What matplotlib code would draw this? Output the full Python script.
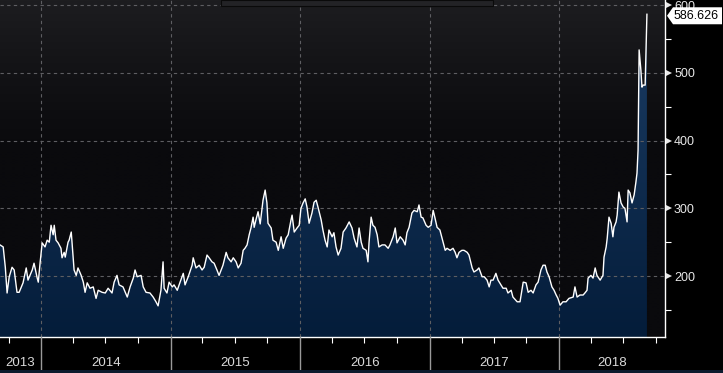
import numpy as np
import pandas as pd
import matplotlib
matplotlib.use("Agg")
import matplotlib.pyplot as plt
import matplotlib.dates as mdates
from matplotlib.transforms import blended_transform_factory, ScaledTranslation, IdentityTransform
from matplotlib.patches import Rectangle, Polygon
from matplotlib.lines import Line2D
from matplotlib.ticker import FixedLocator

# ---------------- data ----------------
dates = [
    "2013-09-07", "2013-09-16", "2013-09-22", "2013-09-27", "2013-10-03", "2013-10-11", "2013-10-17",
    "2013-10-25", "2013-10-31", "2013-11-11", "2013-11-20", "2013-11-25", "2013-12-07", "2013-12-12",
    "2013-12-21", "2013-12-24", "2013-12-29",
    "2014-01-04", "2014-01-12", "2014-01-18", "2014-01-24", "2014-01-29", "2014-02-04", "2014-02-07",
    "2014-02-12", "2014-02-18", "2014-02-26", "2014-03-01", "2014-03-07", "2014-03-10", "2014-03-18",
    "2014-03-21", "2014-03-27", "2014-04-01", "2014-04-04", "2014-04-10", "2014-04-15", "2014-04-24",
    "2014-04-30", "2014-05-05", "2014-05-11", "2014-05-19", "2014-05-28", "2014-06-05", "2014-06-11",
    "2014-06-22", "2014-07-01", "2014-07-09", "2014-07-20", "2014-07-26", "2014-08-03", "2014-08-09",
    "2014-08-20", "2014-09-01", "2014-09-09", "2014-09-18", "2014-09-23", "2014-09-29", "2014-10-10",
    "2014-10-16", "2014-10-24", "2014-11-04", "2014-11-13", "2014-11-21", "2014-11-27", "2014-12-05",
    "2014-12-11", "2014-12-14", "2014-12-22", "2014-12-28",
    "2015-01-06", "2015-01-11", "2015-01-20", "2015-01-28", "2015-02-06", "2015-02-11", "2015-02-20",
    "2015-03-03", "2015-03-06", "2015-03-14", "2015-03-23", "2015-03-31", "2015-04-06", "2015-04-14",
    "2015-04-20", "2015-04-28", "2015-05-04", "2015-05-12", "2015-05-18", "2015-05-29", "2015-06-07",
    "2015-06-12", "2015-06-21", "2015-06-27", "2015-07-05", "2015-07-11", "2015-07-19", "2015-07-25",
    "2015-07-30", "2015-08-05", "2015-08-11", "2015-08-16", "2015-08-22", "2015-08-25", "2015-08-30",
    "2015-09-05", "2015-09-11", "2015-09-19", "2015-09-25", "2015-09-30", "2015-10-03", "2015-10-12",
    "2015-10-17", "2015-10-26", "2015-11-01", "2015-11-09", "2015-11-15", "2015-11-23", "2015-11-29",
    "2015-12-07", "2015-12-10", "2015-12-16", "2015-12-24", "2015-12-30",
    "2016-01-04", "2016-01-10", "2016-01-16", "2016-01-21", "2016-01-27", "2016-02-04", "2016-02-10",
    "2016-02-16", "2016-02-21", "2016-03-01", "2016-03-06", "2016-03-12", "2016-03-18", "2016-03-23",
    "2016-04-01", "2016-04-06", "2016-04-12", "2016-04-18", "2016-04-26", "2016-05-02", "2016-05-10",
    "2016-05-19", "2016-05-27", "2016-06-02", "2016-06-10", "2016-06-16", "2016-06-22", "2016-06-27",
    "2016-07-06", "2016-07-11", "2016-07-14", "2016-07-20", "2016-07-25", "2016-07-31", "2016-08-06",
    "2016-08-11", "2016-08-20", "2016-08-28", "2016-09-06", "2016-09-11", "2016-09-20", "2016-09-26",
    "2016-10-01", "2016-10-10", "2016-10-18", "2016-10-24", "2016-10-29", "2016-11-04", "2016-11-12",
    "2016-11-18", "2016-11-27", "2016-12-02", "2016-12-08", "2016-12-13", "2016-12-22", "2016-12-28",
    "2017-01-05", "2017-01-11", "2017-01-16", "2017-01-22", "2017-01-30", "2017-02-08", "2017-02-14",
    "2017-02-19", "2017-02-28", "2017-03-08", "2017-03-14", "2017-03-19", "2017-03-25", "2017-04-02",
    "2017-04-08", "2017-04-17", "2017-04-22", "2017-05-01", "2017-05-06", "2017-05-15", "2017-05-20",
    "2017-05-29", "2017-06-04", "2017-06-12", "2017-06-18", "2017-06-23", "2017-06-29", "2017-07-07",
    "2017-07-13", "2017-07-21", "2017-07-27", "2017-08-05", "2017-08-10", "2017-08-19", "2017-08-24",
    "2017-09-05", "2017-09-13", "2017-09-22", "2017-09-30", "2017-10-06", "2017-10-14", "2017-10-20",
    "2017-10-28", "2017-11-03", "2017-11-11", "2017-11-17", "2017-11-23", "2017-11-28", "2017-12-04",
    "2017-12-12", "2017-12-18", "2017-12-24", "2017-12-29",
    "2018-01-04", "2018-01-12", "2018-01-21", "2018-01-29", "2018-02-10", "2018-02-15", "2018-02-21",
    "2018-03-01", "2018-03-10", "2018-03-15", "2018-03-21", "2018-03-24", "2018-04-01", "2018-04-07",
    "2018-04-13", "2018-04-18", "2018-04-27", "2018-05-05", "2018-05-08", "2018-05-14", "2018-05-17",
    "2018-05-22", "2018-05-28", "2018-06-02", "2018-06-05", "2018-06-11", "2018-06-14", "2018-06-19",
    "2018-06-25", "2018-07-01", "2018-07-06", "2018-07-12", "2018-07-15", "2018-07-20", "2018-07-26",
    "2018-08-01", "2018-08-06", "2018-08-09", "2018-08-12", "2018-08-15", "2018-08-20", "2018-08-23",
    "2018-08-26", "2018-09-01", "2018-09-04", "2018-09-06",
]
values = [
    246, 243, 213, 175, 199, 213, 209, 176, 176, 190, 212, 194, 209, 219, 197, 191, 219,
    249, 243, 253, 250, 275, 261, 275, 253, 249, 241, 227, 235, 228, 250, 253, 265, 231, 209, 201,
    212, 201, 191, 176, 190, 182, 184, 167, 179, 176, 175, 182, 175, 191, 201, 187, 184, 169, 184,
    197, 209, 199, 201, 184, 176, 175, 169, 162, 156, 179, 221, 182, 175, 191,
    184, 187, 179, 191, 204, 187, 199, 216, 227, 212, 216, 209, 213, 231, 227, 221, 219, 209, 201,
    216, 235, 227, 221, 227, 221, 212, 219, 238, 241, 246, 261, 271, 287, 272, 283, 295, 277, 312,
    327, 308, 278, 271, 253, 250, 238, 258, 241, 256, 261, 283, 290, 265, 271, 275,
    300, 308, 314, 302, 278, 293, 309, 312, 302, 283, 268, 253, 243, 268, 258, 264, 243, 231, 241,
    265, 271, 280, 271, 256, 243, 271, 250, 241, 238, 221, 249, 287, 275, 272, 261, 243, 246, 246,
    241, 246, 258, 271, 249, 258, 253, 246, 264, 272, 293, 297, 295, 305, 287, 286, 275, 272,
    275, 297, 286, 272, 268, 250, 238, 241, 238, 241, 235, 227, 235, 238, 238, 235, 231, 212, 206,
    209, 212, 199, 199, 194, 184, 194, 194, 204, 194, 187, 182, 182, 175, 179, 169, 162, 162, 191,
    190, 176, 179, 175, 187, 191, 209, 216, 216, 206, 199, 184, 179, 172, 167,
    157, 162, 162, 167, 169, 184, 169, 172, 172, 175, 179, 197, 201, 197, 212, 201, 194, 201, 228,
    243, 256, 287, 278, 258, 272, 280, 290, 324, 308, 302, 300, 280, 327, 323, 308, 320, 339, 352,
    386, 534, 504, 479, 482, 482, 544, 586.626,
]
y_major = [200, 300, 400, 500, 600]
y_minor = [150, 250, 350, 450, 550]
year_labels = ["2013", "2014", "2015", "2016", "2017", "2018"]
last_label = "586.626"
x_start, x_end = "2013-09-07", "2018-10-27"
y_lo, y_hi = 110, 607.7

# ---------------- figure ----------------
W, H = 723, 373
fig = plt.figure(figsize=(W / 100, H / 100), dpi=100, facecolor="black")
ax = fig.add_axes([0, 36 / H, 665 / W, 337 / H])

xn = mdates.date2num(pd.to_datetime(dates))
x0 = mdates.date2num(pd.Timestamp(x_start))
x1 = mdates.date2num(pd.Timestamp(x_end))

# plot background gradient
t = np.linspace(0, 1, 256)[:, None]
top = np.array([0x1d, 0x1d, 0x20]) / 255
bot = np.array([0x0a, 0x0a, 0x0d]) / 255
w = np.clip(1 - t / 0.45, 0, 1) ** 1.2
bg = bot + (top - bot) * w[..., None]
ax.imshow(bg, extent=[0, 1, 0, 1], transform=ax.transAxes, aspect="auto",
          origin="upper", zorder=0, interpolation="bilinear")

# gradient area fill clipped to the series
poly = Polygon(np.column_stack([np.r_[xn[0], xn, xn[-1]],
                                np.r_[y_lo - 20, values, y_lo - 20]]),
               closed=True, transform=ax.transData)
tv = np.linspace(0, 1, 256)[:, None]
ctop = np.array([0x1c, 0x3e, 0x66]) / 255
cbot = np.array([0x03, 0x1b, 0x38]) / 255
fimg = cbot + (ctop - cbot) * (1 - tv)[..., None]
im = ax.imshow(fimg, extent=[xn[0], xn[-1], y_lo - 20, y_hi], aspect="auto",
               origin="upper", zorder=1, interpolation="bilinear")
im.set_clip_path(poly)

ax.plot(xn, values, color="white", lw=1.0, zorder=3, solid_joinstyle="round")

ax.set_xlim(x0, x1)
ax.set_ylim(y_lo, y_hi)

# grid
ax.set_axisbelow("line")
ax.xaxis.set_major_locator(mdates.YearLocator())
ax.xaxis.set_minor_locator(mdates.MonthLocator(bymonth=[1, 4, 7, 10]))
ax.yaxis.set_major_locator(FixedLocator(y_major))
ax.yaxis.set_minor_locator(FixedLocator(y_minor))
ax.grid(True, which="major", color="#5e5e62", lw=0.8, linestyle=(0, (3, 3)))

for s in ["top", "left"]:
    ax.spines[s].set_visible(False)
for s in ["right", "bottom"]:
    ax.spines[s].set_color("white")
    ax.spines[s].set_linewidth(1.0)

# y axis on the right
ax.yaxis.tick_right()
ax.tick_params(axis="y", which="major", length=0, pad=6.5, labelcolor="#e8e8e8",
               labelsize=9)
ax.tick_params(axis="y", which="minor", length=4, width=0.8, color="white", direction="out")
for lab in ax.get_yticklabels():
    lab.set_fontfamily(["Liberation Sans", "DejaVu Sans"])
tri_tr = blended_transform_factory(ax.transAxes, ax.transData) + \
    ScaledTranslation(3.5 / 100, 0, fig.dpi_scale_trans)
ax.plot([1] * len(y_major), y_major, linestyle="none", marker=">", markersize=4.5,
        color="#e8e8e8", markeredgewidth=0, transform=tri_tr, clip_on=False, zorder=5)

# x axis
ax.tick_params(axis="x", which="major", length=0, labelbottom=False)
ax.tick_params(axis="x", which="minor", length=4, width=0.8, color="white", direction="out",
               labelbottom=False)
xb = blended_transform_factory(ax.transData, ax.transAxes)
bounds = [x0] + [mdates.date2num(pd.Timestamp(f"{y}-01-01")) for y in range(2014, 2019)] + [x1]
for b in bounds[1:-1]:
    ax.add_line(Line2D([b, b], [0, -36 / 337], transform=xb, color="#9a9a9a", lw=1.0,
                       clip_on=False, zorder=5))
for i, lab in enumerate(year_labels):
    c = 0.5 * (bounds[i] + bounds[i + 1])
    ax.text(c, -26 / 337, lab, transform=xb, ha="center", va="center", color="#dadada",
            fontsize=9.5, family=["Liberation Sans Narrow", "Liberation Sans", "DejaVu Sans"])

# bottom strip
fig.add_artist(Rectangle((0, 0), 1, 3 / H, transform=fig.transFigure,
                         facecolor="#0c1b2e", edgecolor="none", zorder=6))

# top header box
fig.add_artist(Rectangle((221 / W, 1 - 6 / H), 272 / W, 6 / H, transform=fig.transFigure,
                         facecolor="#232326", edgecolor="#0a0a0a", lw=0.8, zorder=6))

# last value tag (drawn over the clipped top label, as in the original)
fig.canvas.draw()
yd = ax.transData.transform((x1, values[-1]))[1] - 1.5
xr = ax.transAxes.transform((1, 0))[0]
hh = 8.5
tag = Polygon([(xr + 2, yd), (xr + 8, yd + hh), (W - 1, yd + hh), (W - 1, yd - hh),
               (xr + 8, yd - hh)], closed=True, transform=IdentityTransform(),
              facecolor="white", edgecolor="none", zorder=7)
fig.add_artist(tag)
fig.text(xr + 9, yd, last_label, transform=IdentityTransform(), ha="left", va="center",
         color="black", fontsize=9, family=["Liberation Sans", "DejaVu Sans"], zorder=8)

fig.savefig("out.png", dpi=100, facecolor="black")
